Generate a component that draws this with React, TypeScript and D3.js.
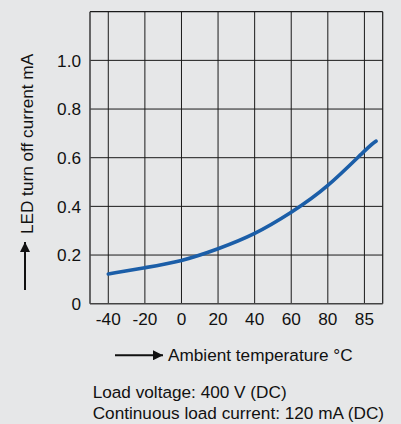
import React from "react";
import * as d3 from "d3";

const tempTicks: number[] = [-40, -20, 0, 20, 40, 60, 80, 85];
const currentTicks: number[] = [0, 0.2, 0.4, 0.6, 0.8, 1.0];
const curveTemps: number[] = [-40, -20, 0, 20, 40, 60, 80, 85, 86.6];
const curveCurrents: number[] = [0.122, 0.148, 0.178, 0.226, 0.289, 0.376, 0.486, 0.627, 0.668];

const W = 401;
const H = 424;
const left = 90;
const right = 382.7;
const top = 11.7;
const bottom = 303.7;
const FONT = "'Liberation Sans', Arial, Helvetica, sans-serif";
const FS = 17.2;
const BG = "#e6e7e8";
const BLUE = "#1b5ea8";

export default function App() {
  const step = (right - left) / 8;
  // Axis drawn with equal spacing; 85 sits one full step after 80.
  const x = d3
    .scaleLinear()
    .domain([-50, 80, 85, 87.5])
    .range([left, left + 6.5 * step, left + 7.5 * step, right]);
  const y = d3.scaleLinear().domain([0, 1.2]).range([bottom, top]);

  const pts: [number, number][] = curveTemps.map((t, i) => [x(t), y(curveCurrents[i])]);
  const line = d3.line().curve(d3.curveNatural)(pts) || "";

  return (
    <svg
      width={W}
      height={H}
      style={{ position: "absolute", left: 0, top: 0, display: "block", background: BG }}
      fontFamily={FONT}
    >
      <defs>
        <marker id="ah" viewBox="0 0 10 10" refX="10" refY="5" markerWidth="5" markerHeight="5" orient="auto">
          <path d="M0,0 L10,5 L0,10 z" fill="#111" />
        </marker>
      </defs>
      <rect x={0} y={0} width={W} height={H} fill={BG} />
      {/* grid */}
      {tempTicks.map((t) => (
        <line key={"v" + t} x1={x(t)} x2={x(t)} y1={top} y2={bottom} stroke="#1a1a1a" strokeWidth={1} />
      ))}
      {currentTicks.filter((v) => v > 0).map((v) => (
        <line key={"h" + v} x1={left} x2={right} y1={y(v)} y2={y(v)} stroke="#1a1a1a" strokeWidth={1} />
      ))}
      <line x1={left} x2={right} y1={top} y2={top} stroke="#1a1a1a" strokeWidth={1.2} />
      <line x1={right} x2={right} y1={top} y2={bottom} stroke="#1a1a1a" strokeWidth={1.2} />
      <line x1={left} x2={left} y1={top} y2={bottom} stroke="#444" strokeWidth={1.6} />
      <line x1={left} x2={right} y1={bottom} y2={bottom} stroke="#444" strokeWidth={1.6} />
      {/* curve */}
      <path d={line} fill="none" stroke={BLUE} strokeWidth={3.6} strokeLinecap="round" />
      {/* y ticks */}
      {currentTicks.map((v) => (
        <text key={"yl" + v} x={81} y={y(v)} dy="0.36em" textAnchor="end" fontSize={FS} fill="#111">
          {v === 0 ? "0" : v.toFixed(1)}
        </text>
      ))}
      {/* x ticks */}
      {tempTicks.map((t) => (
        <text key={"xl" + t} x={x(t)} y={325.3} textAnchor="middle" fontSize={FS} fill="#111">
          {t}
        </text>
      ))}
      {/* y label with arrow */}
      <line x1={25} x2={25} y1={290} y2={242} stroke="#111" strokeWidth={2} markerEnd="url(#ah)" />
      <text transform="translate(33,144) rotate(-90)" textAnchor="middle" fontSize={FS} fill="#111">
        LED turn off current mA
      </text>
      {/* x label with arrow */}
      <line x1={115} x2={163} y1={355.3} y2={355.3} stroke="#111" strokeWidth={2} markerEnd="url(#ah)" />
      <text x={168} y={361} fontSize={FS} fill="#111">
        Ambient temperature °C
      </text>
      {/* notes */}
      <text x={92.7} y={398} fontSize={FS} fill="#111">
        Load voltage: 400 V (DC)
      </text>
      <text x={92.7} y={419.3} fontSize={FS} fill="#111">
        Continuous load current: 120 mA (DC)
      </text>
    </svg>
  );
}
